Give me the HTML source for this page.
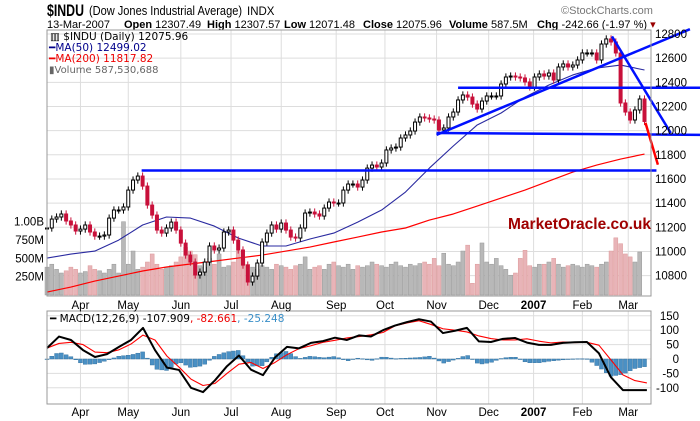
<!DOCTYPE html>
<html><head><meta charset="utf-8">
<style>
body{margin:0;background:#fff;width:700px;height:421px;overflow:hidden;font-family:"Liberation Sans",sans-serif}
svg{display:block}
</style></head>
<body>
<svg id="chart" width="700" height="421" viewBox="0 0 700 421" xmlns="http://www.w3.org/2000/svg" font-family="Liberation Sans, sans-serif">
  <g>
    <text x="47" y="16" font-size="17" font-weight="bold" textLength="37" lengthAdjust="spacingAndGlyphs">$INDU</text>
    <text x="89" y="15" font-size="12.5" textLength="153" lengthAdjust="spacingAndGlyphs">(Dow Jones Industrial Average)</text>
    <text x="247" y="15" font-size="11.5">INDX</text>
  </g>
  <g font-size="11">
    <text x="47" y="28">13-Mar-2007</text>
    <text x="124" y="28"><tspan font-weight="bold">Open</tspan> 12307.49</text>
    <text x="207" y="28"><tspan font-weight="bold">High</tspan> 12307.57</text>
    <text x="284" y="28"><tspan font-weight="bold">Low</tspan> 12071.48</text>
    <text x="363" y="28"><tspan font-weight="bold">Close</tspan> 12075.96</text>
    <text x="449" y="28"><tspan font-weight="bold">Volume</tspan> 587.5M</text>
    <text x="537" y="28"><tspan font-weight="bold">Chg</tspan> -242.66 (-1.97 %) <tspan fill="#900">▾</tspan></text>
  </g>
  <text x="561" y="14" font-size="11" fill="#777">©StockCharts.com</text>
  <g id="grid"></g>
  <g id="vol"></g>
  <g id="mas"></g>
  <g id="price"></g>
  <g id="lines"></g>
  <g id="macd"></g>
  <rect x="47" y="30" width="604" height="266" fill="none" stroke="#999"/>
  <rect x="47" y="311" width="604" height="93" fill="none" stroke="#999"/>
  <g id="labels" font-size="11"></g>
  <g font-family="DejaVu Sans, sans-serif" font-size="10.5">
    <text x="50" y="40" fill="#000">▥ $INDU (Daily) 12075.96</text>
    <text x="49" y="51" fill="#00008b">━MA(50) 12499.02</text>
    <text x="49" y="62" fill="#e00">━MA(200) 11817.82</text>
    <text x="49" y="73" fill="#666" font-size="10">▮Volume 587,530,688</text>
  </g>
  <text x="50" y="322" font-family="DejaVu Sans, sans-serif" font-size="10.5">━ MACD(12,26,9) -107.909<tspan fill="#e00">, -82.661</tspan><tspan fill="#3a8fc8">, -25.248</tspan></text>
  <text x="508" y="229" font-size="15.5" font-weight="bold" fill="#a00000">MarketOracle.co.uk</text>
</svg>
<script>
const closes=[11194,11268,11285,11310,11252,11219,11169,11185,11219,11161,11127,11127,11136,11276,11343,11343,11368,11508,11591,11624,11541,11384,11301,11177,11152,11194,11243,11177,11069,10970,10912,10805,10829,10912,11045,11012,11028,11161,11177,11094,11012,10887,10747,10796,10904,11078,11152,11219,11185,11235,11177,11119,11111,11194,11318,11326,11310,11293,11359,11409,11401,11401,11508,11558,11558,11533,11591,11690,11715,11699,11732,11840,11856,11864,11939,11964,11997,12071,12113,12105,12096,12088,12005,12022,12113,12154,12254,12295,12278,12220,12179,12245,12287,12287,12287,12386,12444,12452,12444,12436,12403,12361,12444,12469,12452,12477,12419,12527,12552,12527,12543,12585,12643,12643,12643,12585,12717,12759,12734,12643,12229,12154,12088,12171,12262,12076];
const volumes=[380,420,350,300,330,380,350,300,320,400,350,330,300,350,420,300,1000,420,600,350,380,450,560,420,350,380,400,450,520,650,600,550,400,380,500,420,560,380,400,450,600,500,420,380,350,400,380,350,420,400,380,350,400,420,520,350,380,400,350,420,450,400,380,420,350,400,380,400,450,420,400,380,420,450,400,380,420,400,430,450,420,500,400,570,420,400,450,600,680,160,420,710,450,420,500,400,350,270,300,500,610,400,380,420,420,450,500,420,380,400,420,400,380,420,400,380,420,450,600,780,700,560,520,450,587];
const ma50=[10945,10978,11003,11094,11219,11285,11276,11210,11111,11045,11045,11103,11152,11243,11343,11492,11690,11873,12047,12146,12278,12378,12461,12518,12543,12502];
const ma200=[10664,10705,10755,10796,10838,10871,10896,10920,10945,10970,11003,11036,11078,11119,11161,11194,11260,11310,11376,11442,11508,11583,11657,11715,11765,11806];
const macdLine=[38,78,66,31,7,17,42,66,108,31,-30,-38,-100,-115,-74,-25,12,-37,-56,5,42,37,56,62,74,66,82,78,100,116,128,138,130,90,98,108,61,59,70,73,57,49,49,56,58,59,20,-63,-108,-108,-108];
const signalLine=[38,54,58,50,24,22,32,52,83,66,10,-28,-70,-92,-85,-50,-18,-12,-33,-12,15,36,46,58,65,73,78,84,92,115,125,133,120,105,100,94,80,71,66,66,70,62,56,59,57,58,48,-3,-55,-75,-83];
const priceTicks=[10800,11000,11200,11400,11600,11800,12000,12200,12400,12600,12800];
const volTicks=[250,500,750,1000];
const volTickLabels=['250M','500M','750M','1.00B'];
const macdTicks=[150,100,50,0,-50,-100];
const months=['Apr','May','Jun','Jul','Aug','Sep','Oct','Nov','Dec','2007','Feb','Mar'];
const monthPos=[7,17,28,38.5,49,60.5,70.7,81.5,92.4,101.8,112,121.6];
const trend=[[[19.8,11670],[127.5,11670]],[[86,12355],[137,12355]],[[81.5,11980],[137,11965]],[[81.5,11965],[134.5,12840]],[[118.2,12780],[130.5,11980]]];
const projection=[[125.2,12065],[127.8,11718]];

const NS='http://www.w3.org/2000/svg';
const X0=47, DX=4.78;
const x=i=>X0+i*DX;
const yP=p=>34+(12800-p)*0.1208;
const yV=v=>295-v*0.0733;
const yM=v=>359-v*0.288;
function mk(tag,attrs,parent){const e=document.createElementNS(NS,tag);for(const k in attrs)e.setAttribute(k,attrs[k]);parent.appendChild(e);return e;}
const G=id=>document.getElementById(id);

priceTicks.forEach(p=>{const l=mk('line',{x1:47,x2:651,y1:yP(p),y2:yP(p),stroke:'#ddd'},G('grid'));

});
macdTicks.forEach(v=>{const l=mk('line',{x1:47,x2:651,y1:yM(v),y2:yM(v),stroke:'#ddd'},G('grid'));

});
monthPos.forEach(m=>{[[30,296],[311,404]].forEach(r=>{const l=mk('line',{x1:x(m),x2:x(m),y1:r[0],y2:r[1],stroke:'#ddd'},G('grid'));

});});

volumes.forEach((v,i)=>{const down=i>0&&closes[i]<closes[i-1];
const r=mk('rect',{x:x(i)-2,y:yV(v),width:4,height:295-yV(v),fill:down?'#e8b4b8':'#b8b8b8',stroke:down?'#d99':'#999','stroke-width':0.5},G('vol'));

});

function poly(arr,step,yf,color,w,name,parent){const pts=arr.map((v,k)=>x(k*step)+','+yf(v)).join(' ');
const p=mk('polyline',{points:pts,fill:'none',stroke:color,'stroke-width':w,'stroke-linejoin':'round'},parent);

}
poly(ma50,5,yP,'#2a2aa0',1.1,'ma50-line',G('mas'));
poly(ma200,5,yP,'#f00',1.2,'ma200-line',G('mas'));

closes.forEach((c,i)=>{const o=i>0?closes[i-1]:c;const up=c>=o;const hi=Math.max(o,c)+30,lo=Math.min(o,c)-30;
const col=up?'#000':'#c8103a';
const w=mk('line',{x1:x(i),x2:x(i),y1:yP(hi),y2:yP(lo),stroke:col,'stroke-width':1},G('price'));


const b=mk('rect',{x:x(i)-1.5,y:yP(Math.max(o,c)),width:3,height:Math.max(1,Math.abs(yP(o)-yP(c))),fill:up?'#fff':col,stroke:col,'stroke-width':1},G('price'));

});

trend.forEach(t=>{const l=mk('line',{x1:x(t[0][0]),y1:yP(t[0][1]),x2:x(t[1][0]),y2:yP(t[1][1]),stroke:'#0010ff','stroke-width':2.5},G('lines'));

});
const pr=mk('line',{x1:x(projection[0][0]),y1:yP(projection[0][1]),x2:x(projection[1][0]),y2:yP(projection[1][1]),stroke:'#f00','stroke-width':2.5},G('lines'));



const MS=2.51;
for(let i=0;i<closes.length;i++){
  const f=i/MS,k=Math.min(Math.floor(f),macdLine.length-2),t=f-k;
  const m=macdLine[k]*(1-t)+macdLine[k+1]*t, s=signalLine[k]*(1-t)+signalLine[k+1]*t, h=m-s;
  const r=mk('rect',{x:x(i)-2,y:Math.min(yM(0),yM(h)),width:4,height:Math.max(0.5,Math.abs(yM(h)-yM(0))),fill:'#4a90c4',stroke:'#2a6a9a','stroke-width':0.4},G('macd'));
  
  
}
poly(signalLine,MS,yM,'#f00',1.1,'macd-signal-line',G('macd'));
poly(macdLine,MS,yM,'#000',2,'macd-line',G('macd'));

priceTicks.forEach(p=>{const t=mk('text',{x:655,y:yP(p)+4,'font-size':11.5},G('labels'));t.textContent=p;

});
volTicks.forEach((v,k)=>{const t=mk('text',{x:44,y:yV(v)+4,'text-anchor':'end','font-size':11.5},G('labels'));t.textContent=volTickLabels[k];

});
macdTicks.forEach(v=>{const t=mk('text',{x:679,y:yM(v)+4,'text-anchor':'end','font-size':11.5},G('labels'));t.textContent=v;

});
months.forEach((m,k)=>{[309,416].forEach(yy=>{const t=mk('text',{x:x(monthPos[k]),y:yy,'text-anchor':'middle','font-size':11.5,'font-weight':m==='2007'?'bold':'normal'},G('labels'));t.textContent=m;

});});
</script>
</body></html>
